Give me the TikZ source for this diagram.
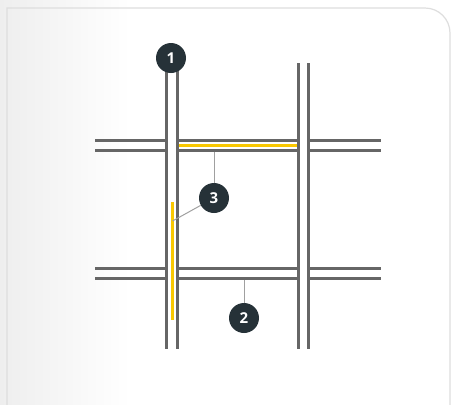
\documentclass[tikz,border=0pt]{standalone}
\usepackage{fontspec}
\setsansfont{Open Sans}
\usetikzlibrary{positioning, calc}
\definecolor{roadgray}{RGB}{102, 102, 102}
\definecolor{laneyellow}{RGB}{250, 200, 0}
\definecolor{badgedark}{RGB}{38, 50, 56}
\definecolor{leadergray}{RGB}{160, 160, 160}
\definecolor{cardedge}{RGB}{222, 222, 222}
\definecolor{cardshade}{RGB}{238, 238, 238}

\begin{document}
\begin{tikzpicture}[
        x=1pt, y=-1pt,
        road/.style={line width=3pt, roadgray},
        lane/.style={line width=3pt, laneyellow},
        leader/.style={line width=1pt, leadergray},
        badge/.style={circle, fill=badgedark, text=white, minimum size=30pt, inner sep=0pt, font=\sffamily\bfseries\fontsize{15}{15}\selectfont}
      ]
        \useasboundingbox (0,0) rectangle (451,405);

        % background card
        \fill[white] (0,0) rectangle (451,405);
        \fill[left color=cardshade, right color=white] (0,0) rectangle (130,405);
        \draw[cardedge, line width=1.2pt] (7,410) -- (7,8) -- (425,8) arc[start angle=-90, end angle=0, radius=25] -- (450,410);

        % horizontal roads
        \foreach \y in {140, 150, 268, 278} {
          \draw[road] (95,\y) -- (166,\y);
          \draw[road] (177,\y) -- (298,\y);
          \draw[road] (308,\y) -- (381,\y);
        }

        % vertical roads
        \foreach \x in {166, 177, 298, 308}
          \draw[road] (\x,63) -- (\x,349);

        % highlighted lanes
        \draw[lane] (178.5,145) -- (296.5,145);
        \draw[lane] (172,202) -- (172,320);

        % callouts
        \node[badge] (n1) at (171,58) {1};
        \node[badge] (n3) at (214,198) {3};
        \node[badge] (n2) at (244,318) {2};

        \coordinate (t3a) at (214,152);
        \coordinate (t3b) at (172.5,221);
        \coordinate (t2) at (244,280);

        \draw[leader] (n3) -- (t3a);
        \draw[leader] (n3) -- (t3b);
        \draw[leader] (n2) -- (t2);
      \end{tikzpicture}
\end{document}
